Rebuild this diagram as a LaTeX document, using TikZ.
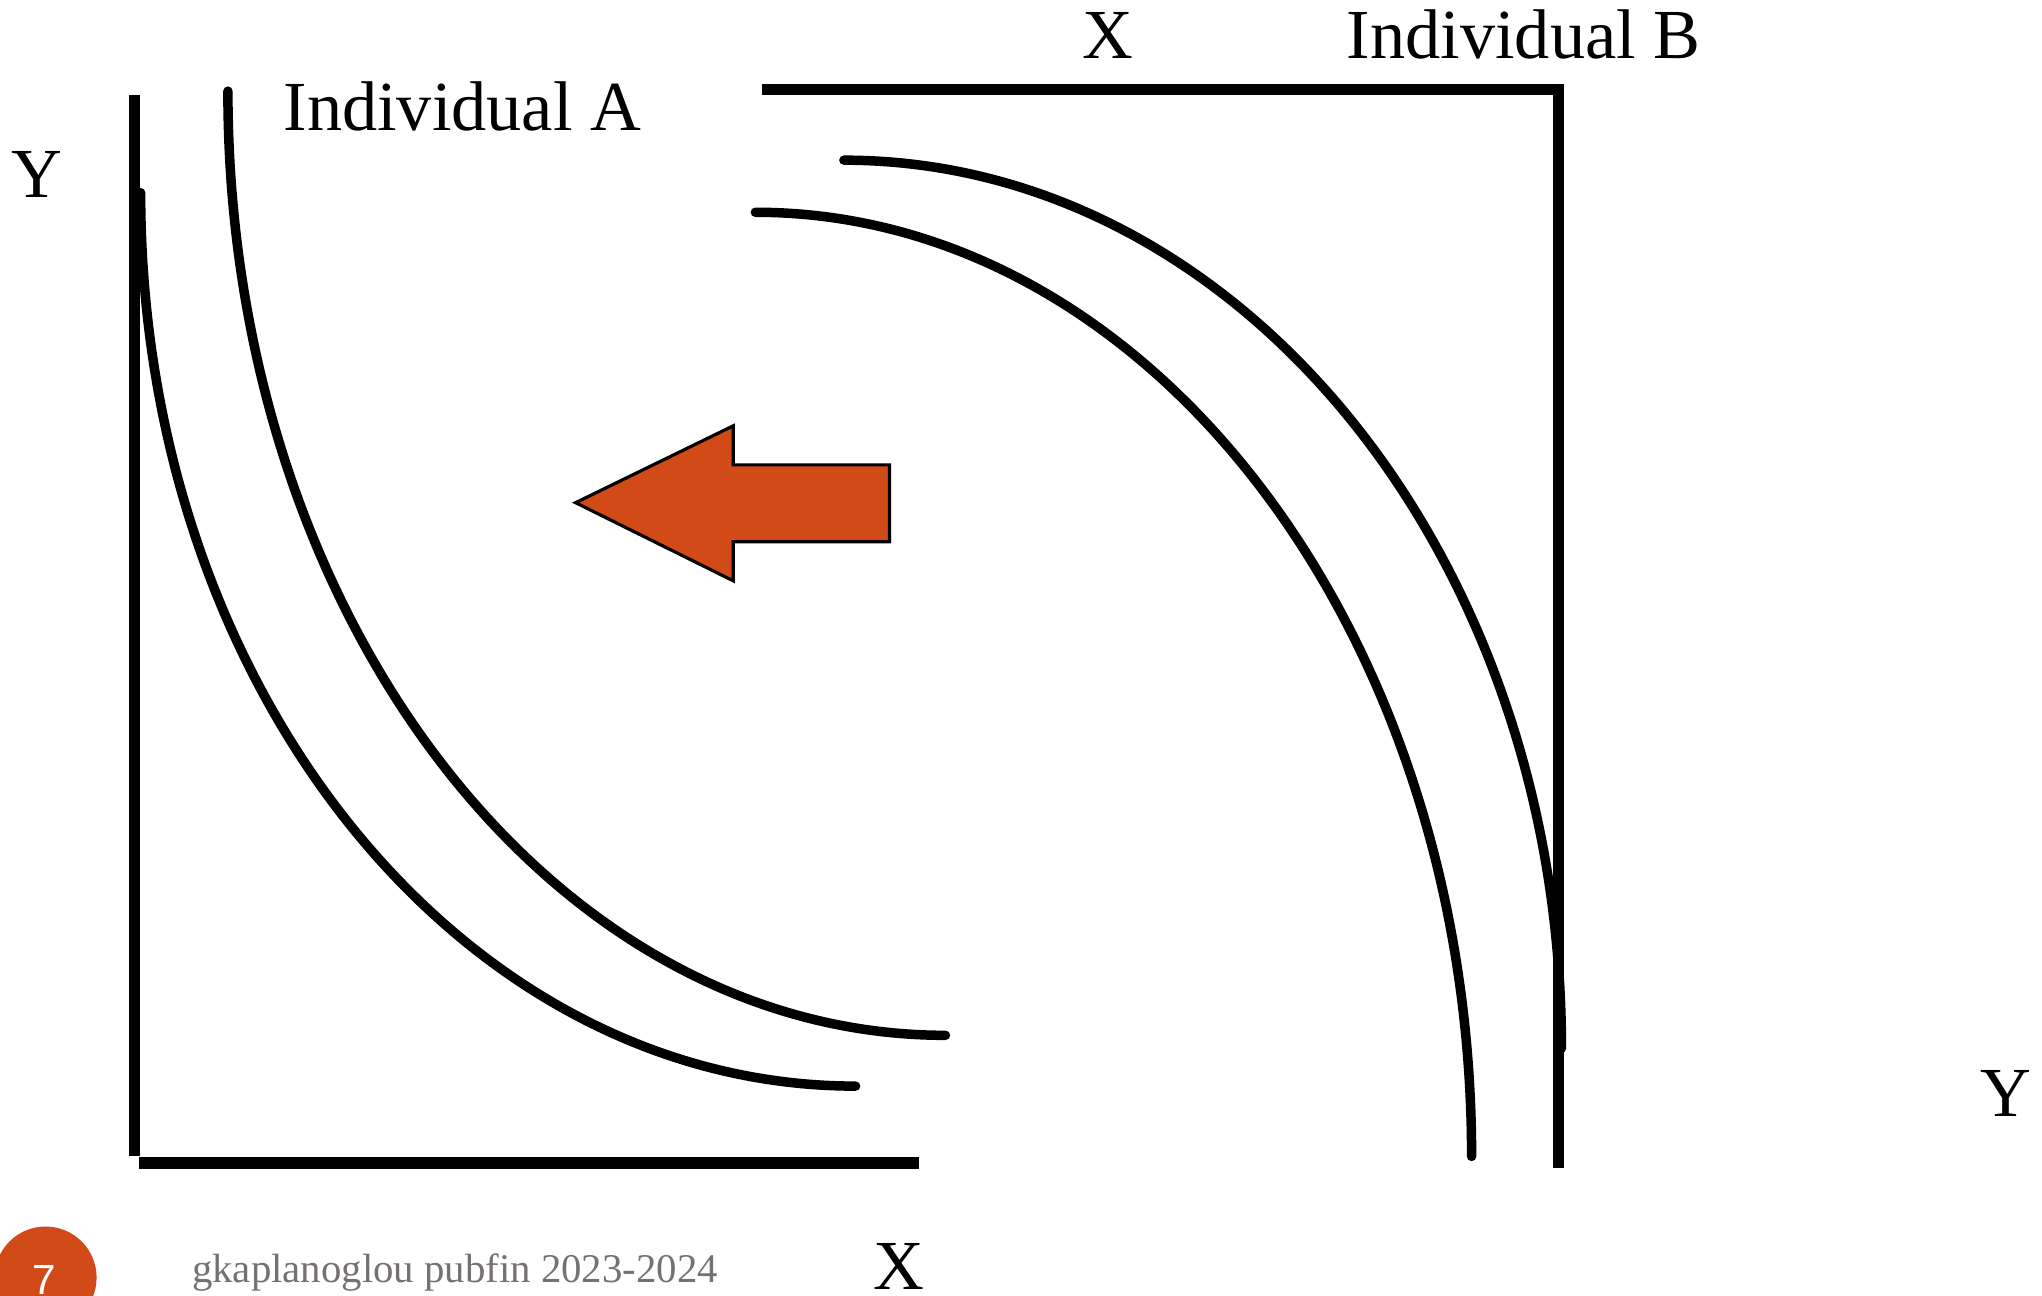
\documentclass[tikz,border=0pt]{standalone}
\usepackage{fontspec}
\setmainfont{Liberation Serif}
\newfontfamily\footsans{Liberation Sans}
\definecolor{accent}{HTML}{D24A18}
\definecolor{foot}{HTML}{767171}
\begin{document}
\begin{tikzpicture}[x=0.013023cm,y=-0.013023cm,
  axisline/.style={line width=3.2pt},
  icurve/.style={line width=2.7pt,line cap=round},
  lbl/.style={font=\fontsize{20}{24}\selectfont,inner sep=0pt,anchor=base},
  shiftarrow/.style={fill=accent,draw=black,line width=0.9pt,line join=miter}]
\useasboundingbox (0,0) rectangle (1568,995);
% axes of A
\coordinate (aTop) at (103,73);
\coordinate (aOrig) at (103,888);
\coordinate (aBl) at (107,893);
\coordinate (aBr) at (706,893);
\draw[axisline] (aTop) -- (aOrig);
\draw[axisline] (aBl) -- (aBr);
% axes of B
\coordinate (bL) at (585,69);
\coordinate (bOrig) at (1197,69);
\coordinate (bBot) at (1197,897);
\draw[axisline] (bL) -- (bOrig) -- (bBot);
% indifference curves of A
\coordinate (a1s) at (108,148);
\coordinate (a1e) at (657,834);
\draw[icurve] (a1s) .. controls (108,527.8) and (353.8,834) .. (a1e);
\coordinate (a2s) at (175,70);
\coordinate (a2e) at (726,795);
\draw[icurve] (a2s) .. controls (175,470.4) and (421.7,795) .. (a2e);
% indifference curves of B
\coordinate (b1s) at (648,123);
\coordinate (b1e) at (1199,805);
\draw[icurve] (b1s) .. controls (952.3,123) and (1199,428.3) .. (b1e);
\coordinate (b2s) at (580,163);
\coordinate (b2e) at (1130,888);
\draw[icurve] (b2s) .. controls (883.8,163) and (1130,487.6) .. (b2e);
% arrow
\draw[shiftarrow] (442,386) -- (563,327) -- (563,357) -- (683,357) -- (683,416) -- (563,416) -- (563,446) -- cycle;
% labels
\node[lbl] (yA) at (28,152) {Y};
\node[lbl] (indA) at (355,100) {Individual A};
\node[lbl] (xB) at (851,45) {X};
\node[lbl] (indB) at (1170,45) {Individual B};
\node[lbl] (yB) at (1540,857) {Y};
\node[lbl] (xA) at (690,990) {X};
% footer
\node[circle,fill=accent,minimum size=1.02cm,inner sep=0pt] (pg) at (35,981) {};
\node[font=\footsans\fontsize{12}{14}\selectfont,text=white,anchor=base,inner sep=0pt] (pgn) at (34,994) {7};
\node[font=\fontsize{11.6}{14}\selectfont,text=foot,anchor=base west,inner sep=0pt] (ft) at (147,985) {gkaplanoglou pubfin 2023-2024};
\end{tikzpicture}
\end{document}
